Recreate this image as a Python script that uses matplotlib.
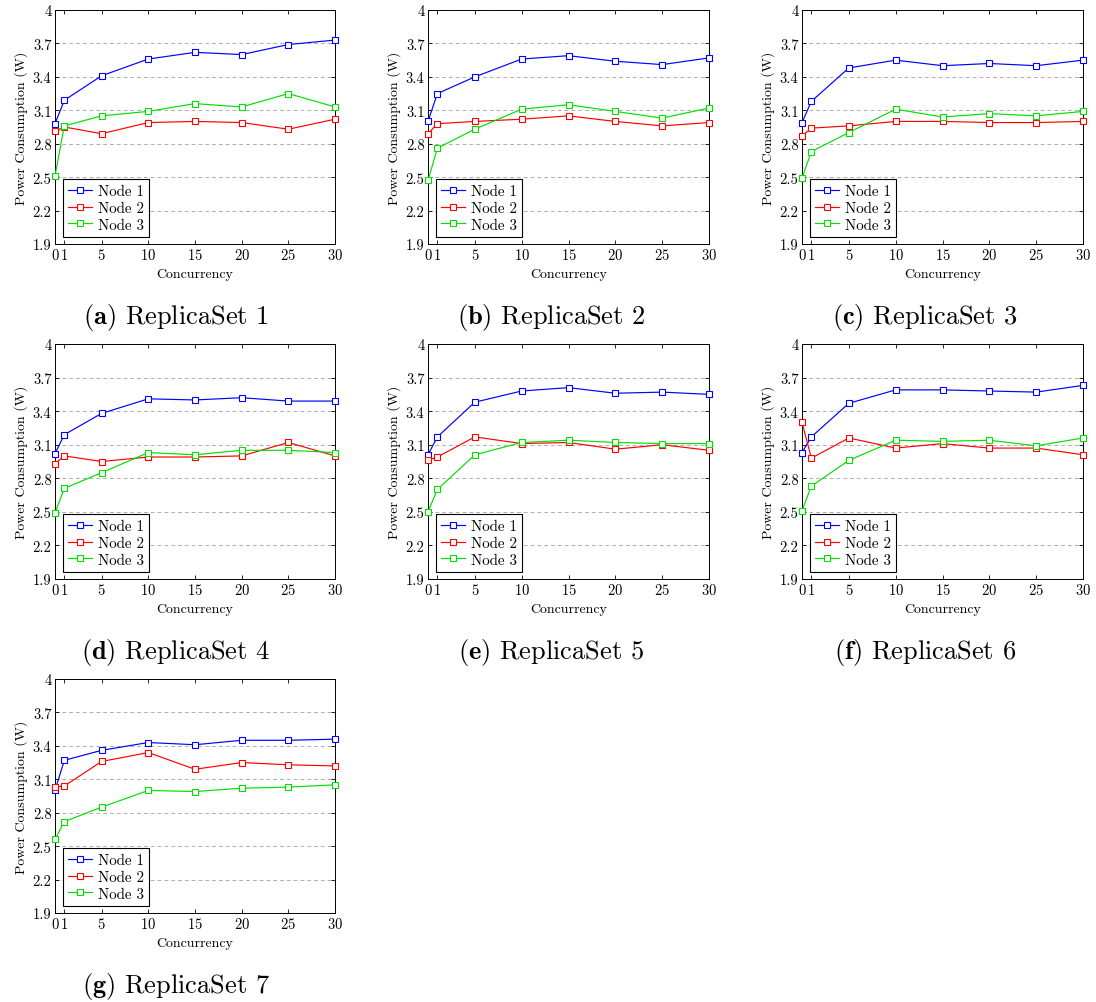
import matplotlib
matplotlib.use("Agg")
import matplotlib.pyplot as plt

concurrency = [0, 1, 5, 10, 15, 20, 25, 30]
x_ticks = [0, 1, 5, 10, 15, 20, 25, 30]
y_ticks = [1.9, 2.2, 2.5, 2.8, 3.1, 3.4, 3.7, 4.0]
y_tick_labels = ["1.9", "2.2", "2.5", "2.8", "3.1", "3.4", "3.7", "4"]
series_names = ["Node 1", "Node 2", "Node 3"]
captions = ["(a)", "(b)", "(c)", "(d)", "(e)", "(f)", "(g)"]
caption_titles = ["ReplicaSet 1", "ReplicaSet 2", "ReplicaSet 3", "ReplicaSet 4",
                  "ReplicaSet 5", "ReplicaSet 6", "ReplicaSet 7"]

rs1_node1 = [2.98, 3.19, 3.41, 3.56, 3.62, 3.60, 3.69, 3.73]
rs1_node2 = [2.91, 2.95, 2.89, 2.99, 3.00, 2.99, 2.93, 3.02]
rs1_node3 = [2.51, 2.96, 3.05, 3.09, 3.16, 3.13, 3.25, 3.13]

rs2_node1 = [3.00, 3.25, 3.40, 3.56, 3.59, 3.54, 3.51, 3.57]
rs2_node2 = [2.89, 2.98, 3.00, 3.02, 3.05, 3.00, 2.96, 2.99]
rs2_node3 = [2.47, 2.76, 2.93, 3.11, 3.15, 3.09, 3.03, 3.12]

rs3_node1 = [2.99, 3.18, 3.48, 3.55, 3.50, 3.52, 3.50, 3.55]
rs3_node2 = [2.87, 2.94, 2.96, 3.00, 3.00, 2.99, 2.99, 3.00]
rs3_node3 = [2.49, 2.73, 2.90, 3.11, 3.04, 3.07, 3.05, 3.09]

rs4_node1 = [3.02, 3.19, 3.38, 3.51, 3.50, 3.52, 3.49, 3.49]
rs4_node2 = [2.93, 3.00, 2.95, 2.99, 2.99, 3.00, 3.12, 3.00]
rs4_node3 = [2.49, 2.71, 2.85, 3.03, 3.01, 3.05, 3.05, 3.03]

rs5_node1 = [3.01, 3.17, 3.48, 3.58, 3.61, 3.56, 3.57, 3.55]
rs5_node2 = [2.96, 2.99, 3.17, 3.11, 3.12, 3.06, 3.10, 3.05]
rs5_node3 = [2.50, 2.70, 3.01, 3.12, 3.14, 3.12, 3.11, 3.11]

rs6_node1 = [3.03, 3.17, 3.47, 3.59, 3.59, 3.58, 3.57, 3.63]
rs6_node2 = [3.30, 2.98, 3.16, 3.07, 3.11, 3.07, 3.07, 3.01]
rs6_node3 = [2.51, 2.73, 2.96, 3.14, 3.13, 3.14, 3.09, 3.16]

rs7_node1 = [3.00, 3.27, 3.36, 3.43, 3.41, 3.45, 3.45, 3.46]
rs7_node2 = [3.03, 3.04, 3.26, 3.34, 3.19, 3.25, 3.23, 3.22]
rs7_node3 = [2.56, 2.72, 2.85, 3.00, 2.99, 3.02, 3.03, 3.05]

replica_sets = [
    (rs1_node1, rs1_node2, rs1_node3),
    (rs2_node1, rs2_node2, rs2_node3),
    (rs3_node1, rs3_node2, rs3_node3),
    (rs4_node1, rs4_node2, rs4_node3),
    (rs5_node1, rs5_node2, rs5_node3),
    (rs6_node1, rs6_node2, rs6_node3),
    (rs7_node1, rs7_node2, rs7_node3),
]

colors = ["#0000ff", "#ff0000", "#00e000"]

plt.rcParams["font.family"] = ["cmr10", "DejaVu Serif"]
plt.rcParams["mathtext.fontset"] = "cm"
plt.rcParams["axes.formatter.use_mathtext"] = True

W, H = 1096, 1003
fig = plt.figure(figsize=(W / 100, H / 100), dpi=100)

col_left = [55, 428, 802]
col_right = [335, 709, 1083]
row_top = [11, 345, 680]
row_bottom = [245, 580, 914]
cap_y = [318, 652, 987]
cap_cx = [176, 551, 925]

for i, data in enumerate(replica_sets):
    r, c = divmod(i, 3)
    l, rr = col_left[c], col_right[c]
    t, b = row_top[r], row_bottom[r]
    ax = fig.add_axes([l / W, 1 - b / H, (rr - l) / W, (b - t) / H])
    for name, vals, col in zip(series_names, data, colors):
        ax.plot(concurrency, vals, color=col, lw=0.85, marker="s", ms=4.3,
                mfc="white", mec=col, mew=0.8, label=name, clip_on=False,
                zorder=3)
    ax.set_xlim(0, 30)
    ax.set_ylim(1.9, 4.0)
    ax.set_xticks(x_ticks)
    ax.set_yticks(y_ticks)
    ax.set_yticklabels(y_tick_labels)
    ax.yaxis.grid(True, linestyle=(0, (4, 3)), color="#b0b0b0", lw=0.7)
    ax.set_axisbelow(True)
    ax.tick_params(direction="in", top=True, right=True, labelsize=10.5,
                   length=3, width=0.6, pad=2.5)
    for s in ax.spines.values():
        s.set_linewidth(0.7)
    ax.set_xlabel("Concurrency", fontsize=10, labelpad=4)
    ax.set_ylabel("Power Consumption (W)", fontsize=10, labelpad=3)
    leg = ax.legend(loc="lower left", bbox_to_anchor=(0.029, 0.03), fontsize=10.8,
                    fancybox=False, framealpha=1, edgecolor="black",
                    handlelength=1.6, handletextpad=0.35, borderpad=0.35,
                    labelspacing=0.2, borderaxespad=0.0)
    leg.get_frame().set_linewidth(0.8)
    leg.set_zorder(5)

    cx = cap_cx[c] / W
    cy = 1 - cap_y[r] / H
    fig.text(cx, cy, r"$\mathbf{" + captions[i] + r"}$ " + caption_titles[i],
             ha="center", va="center", fontsize=19)

fig.savefig("out.png", dpi=100)
